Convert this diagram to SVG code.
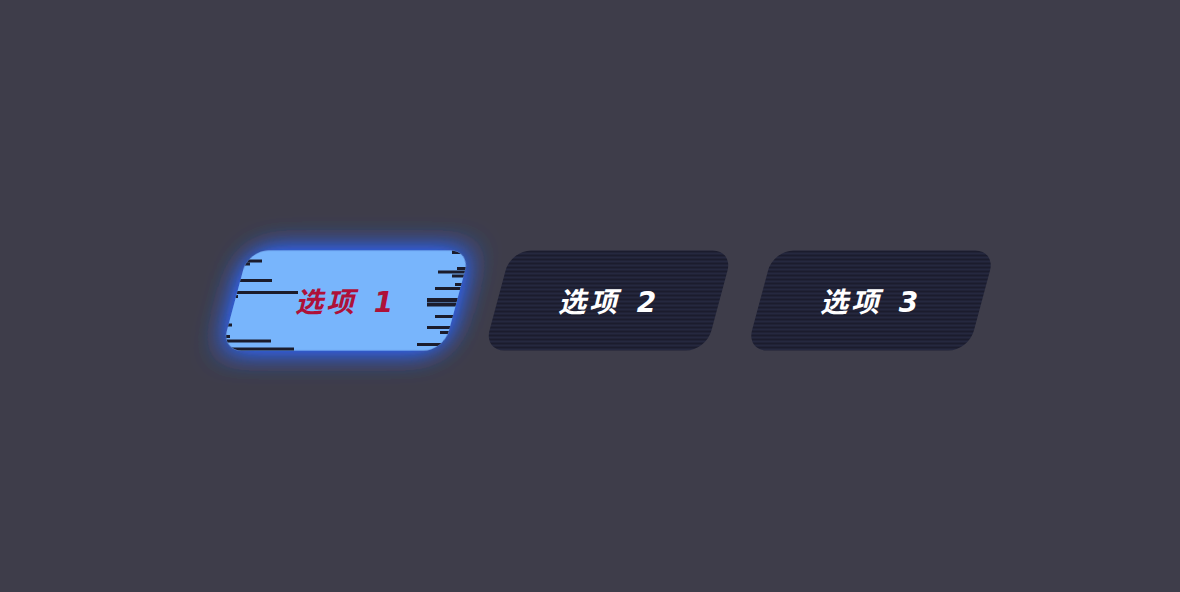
<svg xmlns="http://www.w3.org/2000/svg" width="1180" height="592" viewBox="0 0 1180 592">
<defs>
<style>
.lbl{font-family:"DejaVu Sans","Noto Sans CJK SC",sans-serif;font-size:28px;font-weight:bold;font-style:italic;letter-spacing:3px}
.dark{fill:url(#stripes)}
.bar{fill:#1b1c2c}
</style>
<pattern id="stripes" x="0" y="250" width="8" height="4" patternUnits="userSpaceOnUse">
<rect width="8" height="4" fill="#1b1c2d"/>
<rect y="2" width="8" height="2" fill="#25283f"/>
</pattern>
<filter id="glow" x="-40%" y="-80%" width="180%" height="260%">
<feGaussianBlur in="SourceAlpha" stdDeviation="15" result="b"/>
<feFlood flood-color="#2d62ee" flood-opacity="1"/>
<feComposite in2="b" operator="in" result="g"/>
<feComponentTransfer in="g" result="g2"><feFuncA type="linear" slope="1.6"/></feComponentTransfer>
<feMerge><feMergeNode in="g2"/><feMergeNode in="SourceGraphic"/></feMerge>
</filter>
<clipPath id="clip1">
<rect x="-111" y="-50" width="222" height="100" rx="20" transform="translate(346,300.5) skewX(-15)"/>
</clipPath>
</defs>
<rect width="1180" height="592" fill="#3e3d4a"/>
<g id="option1">
<rect x="-111" y="-50" width="222" height="100" rx="20" fill="#78b5fc" filter="url(#glow)" transform="translate(346,300.5) skewX(-15)"/>
<g clip-path="url(#clip1)">
<rect class="bar" x="230" y="259.5" width="32" height="3"/>
<rect class="bar" x="230" y="262.5" width="20" height="3"/>
<rect class="bar" x="225" y="279" width="47" height="3"/>
<rect class="bar" x="225" y="291" width="73" height="3"/>
<rect class="bar" x="225" y="295" width="13" height="3"/>
<rect class="bar" x="220" y="323.5" width="12" height="3"/>
<rect class="bar" x="220" y="335" width="10" height="3"/>
<rect class="bar" x="220" y="339.5" width="51" height="3"/>
<rect class="bar" x="220" y="347.5" width="74" height="4"/>
<rect class="bar" x="452" y="250" width="20" height="4"/>
<rect class="bar" x="457" y="267" width="15" height="3"/>
<rect class="bar" x="438" y="270.5" width="34" height="3"/>
<rect class="bar" x="452" y="274.5" width="20" height="3"/>
<rect class="bar" x="455" y="283" width="15" height="3"/>
<rect class="bar" x="435" y="287" width="35" height="3"/>
<rect class="bar" x="427" y="298" width="40" height="4"/>
<rect class="bar" x="427" y="302.5" width="40" height="4"/>
<rect class="bar" x="435" y="315" width="30" height="3"/>
<rect class="bar" x="427" y="326" width="35" height="3"/>
<rect class="bar" x="440" y="331" width="20" height="3"/>
<rect class="bar" x="417" y="343" width="40" height="3"/>
</g>
<text class="lbl" x="295" y="312" fill="#ae1139">选项 <tspan dx="4">1</tspan></text>
</g>
<g id="option2">
<rect class="dark" x="-111" y="-50" width="222" height="100" rx="20" transform="translate(608.5,300.5) skewX(-15)"/>
<text class="lbl" x="558" y="312" fill="#ffffff">选项 <tspan dx="4">2</tspan></text>
</g>
<g id="option3">
<rect class="dark" x="-111" y="-50" width="222" height="100" rx="20" transform="translate(871,300.5) skewX(-15)"/>
<text class="lbl" x="820" y="312" fill="#ffffff">选项 <tspan dx="4">3</tspan></text>
</g>
<g id="connectors"/>
</svg>
